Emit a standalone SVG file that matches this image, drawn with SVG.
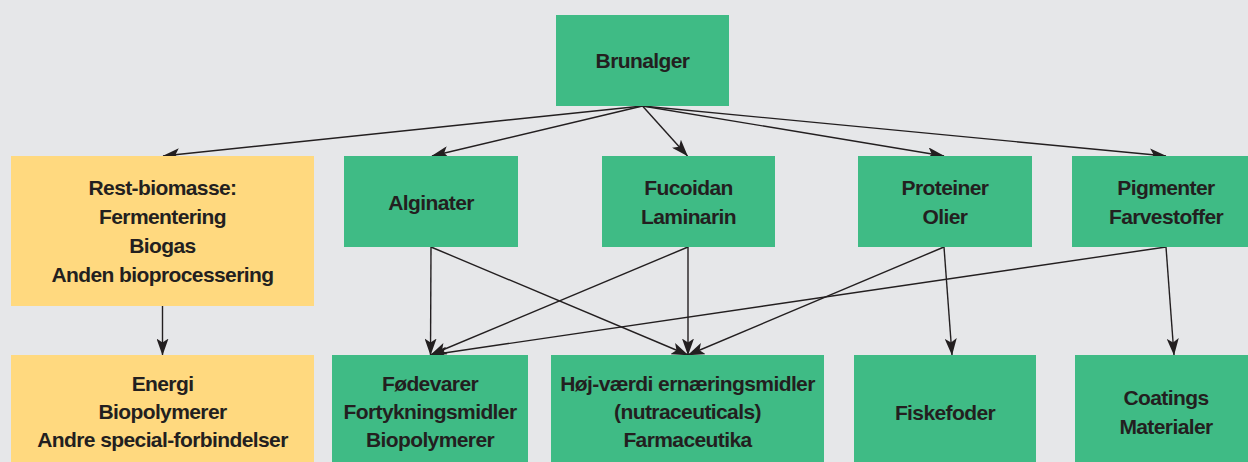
<svg xmlns="http://www.w3.org/2000/svg" width="1248" height="462" viewBox="0 0 1248 462">
<defs>
<marker id="arr" markerUnits="userSpaceOnUse" markerWidth="17" markerHeight="12" refX="16.5" refY="6" orient="auto" viewBox="0 0 17 12">
<path d="M0,0 L17,6 L0,12 L4,6 z" fill="#231f20"/>
</marker>
<style>
.g{fill:#3fbb85}
.y{fill:#ffd97f}
text{font-family:"Liberation Sans",Arial,sans-serif;font-weight:bold;font-size:21px;letter-spacing:-0.6px;fill:#231f20;text-anchor:middle}
#connectors line{stroke:#231f20;stroke-width:1.4;fill:none;marker-end:url(#arr)}
</style>
</defs>
<rect width="1248" height="462" fill="#e6e7e9"/>
<g id="connectors">
<line x1="642.5" y1="106" x2="163" y2="156"/>
<line x1="642.5" y1="106" x2="432" y2="156"/>
<line x1="642.5" y1="106" x2="687.5" y2="156"/>
<line x1="642.5" y1="106" x2="944" y2="156"/>
<line x1="642.5" y1="106" x2="1166" y2="156"/>
<line x1="162.5" y1="306" x2="162.5" y2="355"/>
<line x1="431" y1="247" x2="430.5" y2="355"/>
<line x1="431" y1="247" x2="688" y2="355"/>
<line x1="688" y1="247" x2="430.5" y2="355"/>
<line x1="688" y1="247" x2="688" y2="355"/>
<line x1="944" y1="247" x2="688" y2="355"/>
<line x1="944" y1="247" x2="952" y2="355"/>
<line x1="1166" y1="247" x2="430.5" y2="355"/>
<line x1="1166" y1="247" x2="1174" y2="355"/>
</g>
<g id="brunalger"><rect class="g" x="556" y="15" width="173" height="91"/><text x="642.5" y="68">Brunalger</text></g>
<g id="rest"><rect class="y" x="11" y="156" width="303" height="150"/><text x="162.5" y="195">Rest-biomasse:</text><text x="162.5" y="224">Fermentering</text><text x="162.5" y="253">Biogas</text><text x="162.5" y="282">Anden bioprocessering</text></g>
<g id="alginater"><rect class="g" x="344" y="156" width="174" height="91"/><text x="431" y="210">Alginater</text></g>
<g id="fucoidan"><rect class="g" x="602" y="156" width="173" height="91"/><text x="688.5" y="195">Fucoidan</text><text x="688.5" y="224">Laminarin</text></g>
<g id="proteiner"><rect class="g" x="858" y="156" width="174" height="91"/><text x="945" y="195">Proteiner</text><text x="945" y="224">Olier</text></g>
<g id="pigmenter"><rect class="g" x="1072" y="156" width="190" height="91"/><text x="1166" y="195">Pigmenter</text><text x="1166" y="224">Farvestoffer</text></g>
<g id="energi"><rect class="y" x="11" y="355" width="303" height="120"/><text x="162.5" y="391">Energi</text><text x="162.5" y="419">Biopolymerer</text><text x="162.5" y="447">Andre special-forbindelser</text></g>
<g id="fodevarer"><rect class="g" x="332" y="355" width="196" height="120"/><text x="430" y="391">Fødevarer</text><text x="430" y="419">Fortykningsmidler</text><text x="430" y="447">Biopolymerer</text></g>
<g id="hojvaerdi"><rect class="g" x="551" y="355" width="273" height="120"/><text x="687.5" y="391">Høj-værdi ernæringsmidler</text><text x="687.5" y="419">(nutraceuticals)</text><text x="687.5" y="447">Farmaceutika</text></g>
<g id="fiskefoder"><rect class="g" x="854" y="355" width="182" height="120"/><text x="945" y="420">Fiskefoder</text></g>
<g id="coatings"><rect class="g" x="1075" y="355" width="190" height="120"/><text x="1166" y="405">Coatings</text><text x="1166" y="434">Materialer</text></g>
</svg>
